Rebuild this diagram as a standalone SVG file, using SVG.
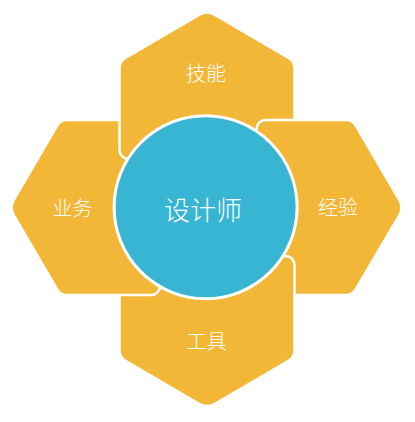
<svg xmlns="http://www.w3.org/2000/svg" xmlns:xlink="http://www.w3.org/1999/xlink" width="415" height="422" viewBox="0 0 415 422">
  <style>
    .petal { fill: #F3B737; stroke: #FFFFFF; stroke-width: 2.5; stroke-linejoin: round; }
    .hub { fill: #39B5D4; stroke: #FFFFFF; stroke-width: 3; }
    .lbl { fill: #FFFFFF; font-family: "Noto Sans CJK SC", "Noto Sans", sans-serif; font-size: 20px; font-weight: 300; text-anchor: middle; }
    .lbl-big { font-size: 26px; }
  </style>
  <defs>
    <clipPath id="clip-right-corner">
      <rect x="248" y="112" width="52" height="55"/>
    </clipPath>
  </defs>
  <rect width="415" height="422" fill="#FFFFFF"/>

  <g id="node-right">
    <path id="p-right" class="petal" transform="translate(207,207.5) rotate(90)" d="M-8,-192.08 A16 16 0 0 1 8,-192.08 L81.5,-149.06 A12 12 0 0 1 87.5,-138.67 L87.5,-58.5 A9 9 0 0 1 78.5,-49.5 L-78.5,-49.5 A9 9 0 0 1 -87.5,-58.5 L-87.5,-138.67 A12 12 0 0 1 -81.5,-149.06 Z"/>
    <text class="lbl" x="338" y="215.1">经验</text>
  </g>

  <g id="node-bottom">
    <path class="petal" transform="translate(207,207.5) rotate(180)" d="M-8,-196.28 A16 16 0 0 1 8,-196.28 L81.5,-153.26 A12 12 0 0 1 87.5,-142.87 L87.5,-57.5 A9 9 0 0 1 78.5,-48.5 L-78.5,-48.5 A9 9 0 0 1 -87.5,-57.5 L-87.5,-142.87 A12 12 0 0 1 -81.5,-153.26 Z"/>
    <text class="lbl" x="206.5" y="348.6">工具</text>
  </g>

  <g id="node-left">
    <path class="petal" transform="translate(207,207.5) rotate(270)" d="M-8,-193.08 A16 16 0 0 1 8,-193.08 L81.5,-150.06 A12 12 0 0 1 87.5,-139.67 L87.5,-56 A9 9 0 0 1 78.5,-47 L-78.5,-47 A9 9 0 0 1 -87.5,-56 L-87.5,-139.67 A12 12 0 0 1 -81.5,-150.06 Z"/>
    <text class="lbl" x="72.5" y="215.6">业务</text>
  </g>

  <g id="node-top">
    <path class="petal" transform="translate(207,207.5)" d="M-8,-192.58 A16 16 0 0 1 8,-192.58 L81.5,-149.56 A12 12 0 0 1 87.5,-139.17 L87.5,-57.5 A9 9 0 0 1 78.5,-48.5 L-78.5,-48.5 A9 9 0 0 1 -87.5,-57.5 L-87.5,-139.17 A12 12 0 0 1 -81.5,-149.56 Z"/>
    <text class="lbl" x="206" y="80.6">技能</text>
  </g>

  <g id="overlap-right-over-top">
    <use xlink:href="#p-right" href="#p-right" clip-path="url(#clip-right-corner)"/>
  </g>

  <g id="node-center">
    <circle class="hub" cx="205.6" cy="207.2" r="91.5"/>
    <text class="lbl lbl-big" x="203" y="219.9">设计师</text>
  </g>
</svg>
